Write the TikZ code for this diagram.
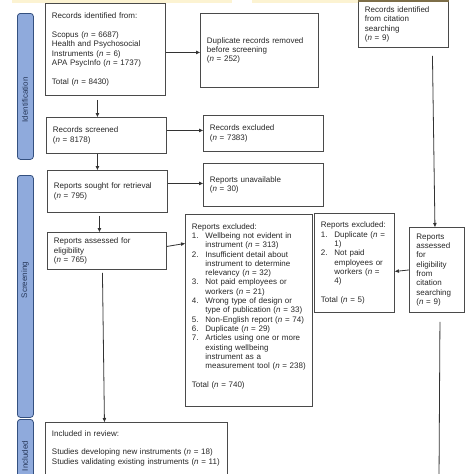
\documentclass[tikz,border=0pt]{standalone}
\usepackage{fontspec}
\setmainfont{Liberation Sans}
\usetikzlibrary{arrows.meta}
\definecolor{boxline}{HTML}{4A4A4A}
\definecolor{txt}{HTML}{262626}
\definecolor{arrcol}{HTML}{333333}
\definecolor{barfill}{HTML}{8FAADC}
\definecolor{bardraw}{HTML}{34507F}
\definecolor{bartext}{HTML}{27385A}
\definecolor{yel}{HTML}{FCF3D2}
\definecolor{brownline}{HTML}{7D6E48}
\newcommand\li[1]{\makebox[13.5pt][l]{#1}}
\newcommand\lc{\hspace*{13.5pt}}
\newcommand\nn{\textit{n}}
\begin{document}
\begin{tikzpicture}[x=1pt,y=-1pt,
  box/.style={draw=boxline, line width=0.9pt, anchor=north west, inner xsep=6.5pt, inner ysep=2pt,
    align=left, font=\fontsize{8}{9.3}\selectfont, text=txt},
  arr/.style={draw=arrcol, line width=0.8pt, -{Triangle[length=4pt,width=3.4pt]}},
  plain/.style={draw=arrcol, line width=0.8pt},
  bar/.style={draw=bardraw, fill=barfill, rounded corners=3pt, line width=0.8pt, anchor=north west, minimum width=16pt, inner sep=0pt},
  bartxt/.style={rotate=90, font=\fontsize{8}{9}\selectfont, text=bartext, inner sep=0pt}
]
\useasboundingbox (0,0) rectangle (474,474);
\fill[yel] (12,0) rectangle (232,3);
\fill[yel] (252,0) rectangle (448,3);

% phase bars
\node[bar, minimum height=146pt] (barI) at (17,13) {};
\node[bartxt] (tI) at (25,100) {Identification};
\node[bar, minimum height=242pt] (barS) at (17,175) {};
\node[bartxt] (tS) at (25,280) {Screening};
\node[bar, minimum height=80pt] (barIn) at (17,419) {};
\node[bartxt] (tIn) at (25,456) {Included};

% boxes
\node[box, minimum width=120pt, minimum height=92pt, text width=107pt] (b1) at (45,3)
 {Records identified from:\\[9.3pt]
  Scopus (\nn{} = 6687)\\
  Health and Psychosocial\\
  Instruments (\nn{} = 6)\\
  APA PsycInfo (\nn{} = 1737)\\[9.3pt]
  Total (\nn{} = 8430)};
\node[box, minimum width=118pt, minimum height=74pt, text width=105pt] (b2) at (200,13)
 {Duplicate records removed\\ before screening\\ (\nn{} = 252)};
\node[box, minimum width=90pt, minimum height=46pt, text width=77pt, fill=white] (b3) at (358,1)
 {Records identified\\ from citation\\ searching\\ (\nn{} = 9)};
\draw[brownline, line width=1.2pt] (b3.north west) -- (b3.north east);
\node[box, minimum width=120pt, minimum height=36pt, text width=107pt] (b4) at (46,117)
 {Records screened\\ (\nn{} = 8178)};
\node[box, minimum width=120pt, minimum height=36pt, text width=107pt] (b5) at (203,115)
 {Records excluded\\ (\nn{} = 7383)};
\node[box, minimum width=120pt, minimum height=42pt, text width=107pt] (b6) at (47,170)
 {Reports sought for retrieval\\ (\nn{} = 795)};
\node[box, minimum width=120pt, minimum height=43pt, text width=107pt] (b7) at (203,163)
 {Reports unavailable\\ (\nn{} = 30)};
\node[box, minimum width=119pt, minimum height=37pt, text width=106pt] (b8) at (47,232)
 {Reports assessed for\\ eligibility\\ (\nn{} = 765)};
\node[box, minimum width=127pt, minimum height=192pt, text width=114pt] (b9) at (185,214)
 {Reports excluded:\\
  \li{1.}Wellbeing not evident in\\
  \lc instrument (\nn{} = 313)\\
  \li{2.}Insufficient detail about\\
  \lc instrument to determine\\
  \lc relevancy (\nn{} = 32)\\
  \li{3.}Not paid employees or\\
  \lc workers (\nn{} = 21)\\
  \li{4.}Wrong type of design or\\
  \lc type of publication (\nn{} = 33)\\
  \li{5.}Non-English report (\nn{} = 74)\\
  \li{6.}Duplicate (\nn{} = 29)\\
  \li{7.}Articles using one or more\\
  \lc existing wellbeing\\
  \lc instrument as a\\
  \lc measurement tool (\nn{} = 238)\\[9.3pt]
  Total (\nn{} = 740)\\[1pt]\mbox{}};
\node[box, minimum width=80pt, minimum height=99pt, text width=67pt] (b10) at (314,213)
 {Reports excluded:\\
  \li{1.}Duplicate (\nn{} =\\
  \lc 1)\\
  \li{2.}Not paid\\
  \lc employees or\\
  \lc workers (\nn{} =\\
  \lc 4)\\[9.3pt]
  Total (\nn{} = 5)};
\node[box, minimum width=54pt, minimum height=85pt, text width=41pt, inner xsep=7pt] (b11) at (409,227)
 {Reports\\ assessed\\ for\\ eligibility\\ from\\ citation\\ searching\\ (\nn{} = 9)};
\node[box, minimum width=182pt, text width=169pt, inner ysep=8pt] (b12) at (45,422)
 {Included in review:\\[9.3pt]
  Studies developing new instruments (\nn{} = 18)\\
  Studies validating existing instruments (\nn{} = 11)\\[30pt]\mbox{}};
\coordinate (bot) at (439,480);

% connectors
\draw[arr] ([xshift=-8pt,yshift=-4pt]b1.south) -- ([xshift=-9pt]b4.north);
\draw[arr] ([yshift=-3pt]b1.east) -- ([yshift=-3pt]b1.east -| b2.west);
\draw[arr] ([yshift=5pt]b4.east) -- ([yshift=5pt]b4.east -| b5.west);
\draw[arr] ([xshift=-9pt]b4.south) -- ([xshift=-10pt]b6.north);
\draw[arr] ([yshift=8pt]b6.east) -- ([yshift=8pt]b6.east -| b7.west);
\draw[arr] ([xshift=-8pt,yshift=-3pt]b6.south) -- ([xshift=-7.5pt]b8.north);
\draw[arr] ([yshift=4.5pt]b8.east) -- ([yshift=67pt]b9.west);
\draw[arr] ([xshift=-4.5pt,yshift=-3pt]b8.south) -- ([xshift=-32pt]b12.north);
\draw[arr] ([xshift=29pt,yshift=-8pt]b3.south) -- ([xshift=-2pt]b11.north);
\draw[arr] ([yshift=0pt]b11.west) -- ([yshift=-8.5pt]b10.east);
\draw[plain] ([xshift=3pt,yshift=-9pt]b11.south) -- (bot);
\end{tikzpicture}
\end{document}
